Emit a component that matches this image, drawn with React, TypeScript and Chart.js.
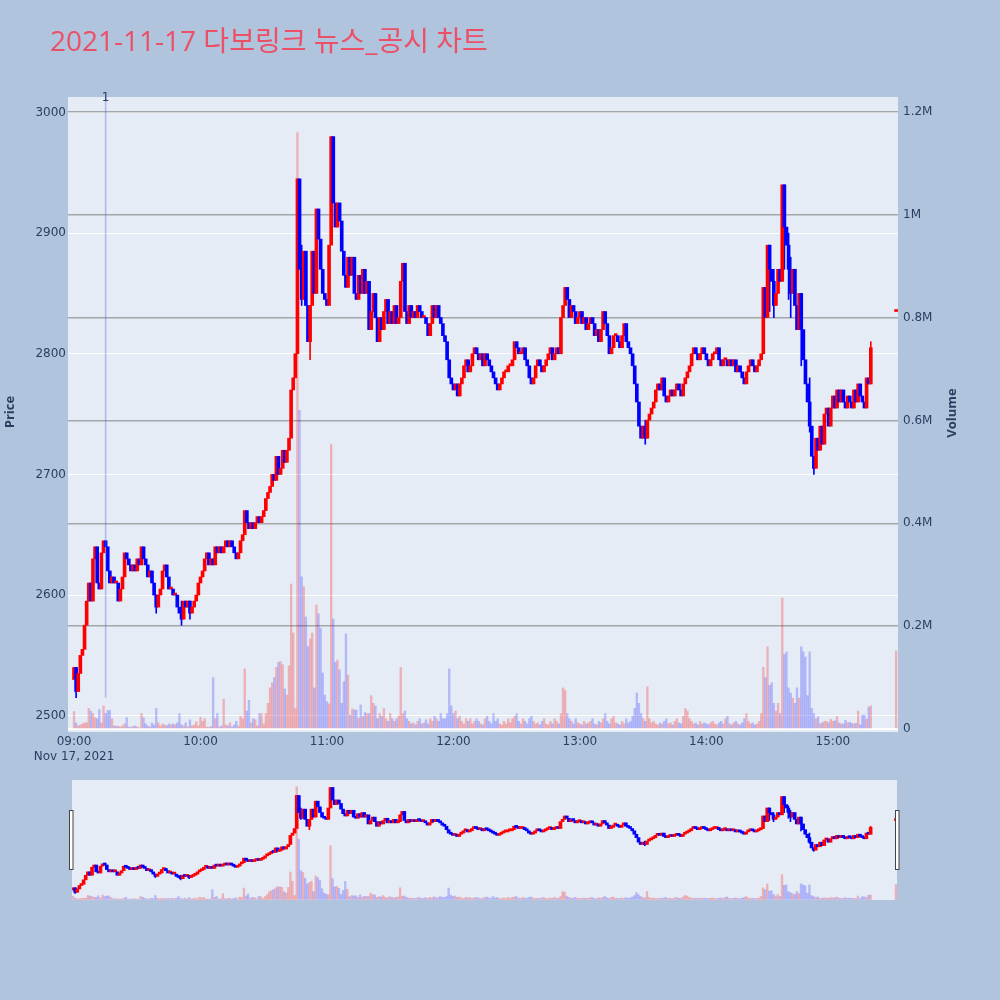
import React, { useEffect, useRef } from "react";
import { Chart, registerables } from "chart.js";

Chart.register(...registerables);

const TITLE = "2021-11-17 다보링크 뉴스_공시 차트";
const DATE_LABEL = "Nov 17, 2021";
const TIME_TICKS = [0, 60, 120, 180, 240, 300, 360];
const TIME_LABELS = ["09:00", "10:00", "11:00", "12:00", "13:00", "14:00", "15:00"];
const PRICE_TICKS = [2500, 2600, 2700, 2800, 2900, 3000];
const VOLUME_TICKS = [0, 0.2, 0.4, 0.6, 0.8, 1, 1.2];
const VOLUME_LABELS = ["0", "0.2M", "0.4M", "0.6M", "0.8M", "1M", "1.2M"];

// minute index 0 = 09:00
const FIRST_OPEN = 2530;
const CLOSES = [
  2540, 2520, 2535, 2550, 2555, 2575, 2595, 2610, 2595, 2630,
  2640, 2610, 2605, 2635, 2645, 2640, 2620, 2610, 2615, 2610,
  2610, 2595, 2605, 2615, 2635, 2630, 2625, 2620, 2625, 2620,
  2630, 2625, 2640, 2630, 2625, 2615, 2620, 2610, 2600, 2590,
  2600, 2605, 2620, 2625, 2615, 2605, 2605, 2600, 2600, 2590,
  2585, 2580, 2595, 2590, 2595, 2585, 2590, 2595, 2600, 2610,
  2615, 2620, 2630, 2635, 2625, 2630, 2625, 2640, 2635, 2640,
  2635, 2640, 2645, 2640, 2645, 2640, 2635, 2630, 2635, 2645,
  2650, 2670, 2660, 2655, 2660, 2655, 2660, 2665, 2660, 2665,
  2670, 2680, 2685, 2690, 2700, 2695, 2715, 2700, 2705, 2720,
  2710, 2720, 2730, 2770, 2780, 2800, 2945, 2870, 2845, 2885,
  2840, 2810, 2840, 2885, 2850, 2920, 2895, 2870, 2850, 2845,
  2840, 2890, 2980, 2925, 2905, 2925, 2910, 2885, 2865, 2855,
  2880, 2865, 2880, 2850, 2845, 2865, 2850, 2870, 2850, 2860,
  2820, 2835, 2850, 2830, 2810, 2830, 2820, 2835, 2845, 2825,
  2835, 2825, 2840, 2825, 2830, 2860, 2875, 2835, 2825, 2840,
  2830, 2835, 2830, 2840, 2835, 2830, 2830, 2825, 2815, 2825,
  2840, 2830, 2840, 2830, 2825, 2815, 2810, 2795, 2780, 2775,
  2770, 2775, 2765, 2775, 2780, 2790, 2795, 2785, 2790, 2800,
  2805, 2800, 2795, 2800, 2790, 2800, 2795, 2790, 2785, 2780,
  2775, 2770, 2775, 2780, 2785, 2785, 2790, 2790, 2795, 2810,
  2805, 2800, 2800, 2805, 2795, 2790, 2780, 2775, 2780, 2790,
  2795, 2790, 2785, 2790, 2795, 2800, 2805, 2795, 2800, 2805,
  2800, 2830, 2840, 2855, 2845, 2830, 2840, 2835, 2825, 2830,
  2835, 2825, 2830, 2820, 2825, 2830, 2825, 2815, 2820, 2810,
  2820, 2835, 2825, 2815, 2800, 2805, 2815, 2815, 2810, 2805,
  2815, 2825, 2810, 2805, 2800, 2790, 2775, 2760, 2740, 2730,
  2740, 2730, 2745, 2750, 2755, 2760, 2770, 2775, 2770, 2780,
  2765, 2760, 2765, 2770, 2765, 2770, 2775, 2770, 2765, 2775,
  2780, 2785, 2790, 2800, 2805, 2800, 2795, 2800, 2805, 2800,
  2795, 2790, 2795, 2800, 2800, 2805, 2795, 2790, 2795, 2795,
  2790, 2795, 2790, 2795, 2785, 2790, 2785, 2780, 2775, 2785,
  2790, 2795, 2790, 2785, 2790, 2795, 2800,
  2855, 2830, 2890, 2870, 2860, 2840, 2850, 2870, 2860, 2940,
  2905, 2890, 2870, 2850, 2870, 2840, 2820, 2850, 2820, 2795,
  2775, 2760, 2740, 2715, 2705, 2730, 2720, 2740, 2725, 2750,
  2755, 2740, 2755, 2765, 2755, 2770, 2760, 2770, 2760, 2755,
  2765, 2760, 2755, 2770, 2760, 2775, 2765, 2760, 2755, 2780, 2775, 2805,
];

// volume in millions of shares, same minutes as CLOSES
const VOLUMES = [
  0.034, 0.012, 0.006, 0.008, 0.010, 0.012, 0.012, 0.040, 0.035, 0.030,
  0.022, 0.020, 0.038, 0.012, 0.045, 0.030, 0.036, 0.036, 0.020, 0.006,
  0.006, 0.005, 0.004, 0.006, 0.010, 0.022, 0.004, 0.003, 0.005, 0.006,
  0.004, 0.002, 0.030, 0.022, 0.010, 0.006, 0.004, 0.012, 0.008, 0.040,
  0.012, 0.006, 0.010, 0.008, 0.006, 0.010, 0.008, 0.010, 0.008, 0.012,
  0.030, 0.008, 0.006, 0.012, 0.004, 0.018, 0.006, 0.008, 0.014, 0.006,
  0.023, 0.015, 0.020, 0.004, 0.003, 0.005, 0.100, 0.020, 0.030, 0.004,
  0.006, 0.058, 0.008, 0.006, 0.012, 0.004, 0.008, 0.015, 0.006, 0.025,
  0.020, 0.117, 0.035, 0.056, 0.012, 0.020, 0.018, 0.006, 0.030, 0.030,
  0.010, 0.030, 0.050, 0.080, 0.090, 0.100, 0.120, 0.130, 0.131, 0.125,
  0.078, 0.066, 0.123, 0.282, 0.187, 0.040, 1.160, 0.620, 0.296, 0.277,
  0.218, 0.160, 0.175, 0.187, 0.080, 0.241, 0.224, 0.196, 0.109, 0.066,
  0.053, 0.049, 0.553, 0.214, 0.130, 0.134, 0.115, 0.050, 0.092, 0.185,
  0.105, 0.027, 0.039, 0.037, 0.037, 0.021, 0.047, 0.024, 0.032, 0.030,
  0.030, 0.065, 0.050, 0.045, 0.020, 0.030, 0.025, 0.040, 0.020, 0.015,
  0.030, 0.020, 0.015, 0.020, 0.025, 0.120, 0.030, 0.035, 0.020, 0.015,
  0.010, 0.012, 0.008, 0.015, 0.020, 0.010, 0.012, 0.018, 0.010, 0.020,
  0.015, 0.025, 0.020, 0.015, 0.030, 0.020, 0.020, 0.030, 0.117, 0.045,
  0.030, 0.035, 0.020, 0.025, 0.015, 0.010, 0.020, 0.015, 0.020, 0.010,
  0.015, 0.020, 0.015, 0.010, 0.008, 0.020, 0.025, 0.015, 0.010, 0.030,
  0.015, 0.020, 0.010, 0.008, 0.015, 0.010, 0.020, 0.012, 0.020, 0.025,
  0.030, 0.015, 0.010, 0.020, 0.015, 0.010, 0.020, 0.025, 0.015, 0.010,
  0.012, 0.008, 0.015, 0.020, 0.010, 0.008, 0.015, 0.010, 0.020, 0.015,
  0.010, 0.030, 0.080, 0.075, 0.030, 0.020, 0.015, 0.010, 0.020, 0.012,
  0.010, 0.008, 0.015, 0.010, 0.012, 0.015, 0.020, 0.010, 0.008, 0.015,
  0.012, 0.020, 0.030, 0.015, 0.010, 0.020, 0.025, 0.012, 0.010, 0.008,
  0.015, 0.010, 0.020, 0.012, 0.015, 0.025, 0.040, 0.070, 0.050, 0.030,
  0.020, 0.015, 0.082, 0.020, 0.012, 0.015, 0.010, 0.008, 0.012, 0.010,
  0.015, 0.020, 0.010, 0.012, 0.008, 0.015, 0.020, 0.012, 0.010, 0.025,
  0.040, 0.035, 0.020, 0.015, 0.010, 0.012, 0.008, 0.015, 0.010, 0.012,
  0.010, 0.008, 0.012, 0.015, 0.010, 0.008, 0.012, 0.015, 0.010, 0.020,
  0.025, 0.010, 0.008, 0.012, 0.015, 0.010, 0.008, 0.012, 0.020, 0.030,
  0.015, 0.010, 0.012, 0.008, 0.010, 0.015, 0.030, 0.120, 0.100, 0.160,
  0.085, 0.090, 0.050, 0.035, 0.050, 0.030, 0.255, 0.145, 0.150, 0.080,
  0.070, 0.060, 0.050, 0.080, 0.060, 0.160, 0.150, 0.140, 0.065, 0.150,
  0.040, 0.030, 0.020, 0.024, 0.010, 0.012, 0.015, 0.015, 0.012, 0.019,
  0.015, 0.016, 0.024, 0.012, 0.010, 0.010, 0.017, 0.012, 0.013, 0.011,
  0.010, 0.011, 0.035, 0.008, 0.027, 0.027, 0.019, 0.043, 0.045,
];

// closing auction trade at 15:30
const AUCTION_MINUTE = 390;
const AUCTION_PRICE = 2835;
const AUCTION_VOLUME = 0.152;

// visible shadows beyond the bodies: [minute, low, high]
const WICKS: [number, number, number][] = [
  [1, 2515, 2540],
  [39, 2585, 2600],
  [51, 2575, 2595],
  [55, 2580, 2595],
  [108, 2840, 2890],
  [112, 2795, 2840],
  [271, 2725, 2745],
  [330, 2835, 2890],
  [332, 2830, 2870],
  [337, 2870, 2940],
  [339, 2845, 2900],
  [340, 2830, 2880],
  [345, 2790, 2850],
  [349, 2735, 2780],
  [351, 2700, 2715],
  [378, 2775, 2810],
];

// news marker
const NEWS_MINUTE = 15;
const NEWS_LABEL = "1";
const NEWS_LINE_LOW = 2515;

const PRICE_MIN = 2486.5;
const PRICE_MAX = 3012.8;
const VOL_MIN = -0.0058;
const VOL_MAX = 1.2292;

const AXIS_COLOR = "#2a3f5f";
const TICK_FONT = '"DejaVu Sans", Verdana, sans-serif';
const UP = "#ff0000";
const DOWN = "#0000ff";
const VOL_UP = "rgba(255,0,0,0.25)";
const VOL_DOWN = "rgba(0,0,255,0.22)";
const PLOT_BG = "#E5ECF6";
const PAGE_BG = "#B0C4DE";

type Candle = { m: number; o: number; c: number; v: number };

const candles: Candle[] = CLOSES.map((c, i) => ({
  m: i,
  o: i === 0 ? FIRST_OPEN : CLOSES[i - 1],
  c,
  v: VOLUMES[i] ?? 0,
}));
candles.push({ m: AUCTION_MINUTE, o: AUCTION_PRICE, c: AUCTION_PRICE, v: AUCTION_VOLUME });

const isUp = (k: Candle) => k.c >= k.o;
const candleAt = (m: number) => candles.find((k) => k.m === m)!;

function makeDatasets(bodyW: number, wickW: number, volW: number): any[] {
  return [
    {
      type: "bar",
      label: "volume",
      yAxisID: "yv",
      data: candles.map((k) => ({ x: k.m, y: k.v })),
      backgroundColor: candles.map((k) => (isUp(k) ? VOL_UP : VOL_DOWN)),
      barThickness: volW,
      grouped: false,
      order: 3,
    },
    {
      type: "bar",
      label: "wicks",
      yAxisID: "y",
      data: WICKS.map(([m, lo, hi]) => ({ x: m, y: [lo, hi] })),
      backgroundColor: WICKS.map(([m]) => (isUp(candleAt(m)) ? UP : DOWN)),
      barThickness: wickW,
      grouped: false,
      order: 2,
    },
    {
      type: "bar",
      label: "price",
      yAxisID: "y",
      data: candles.map((k) => ({ x: k.m, y: [k.o, k.c] })),
      backgroundColor: candles.map((k) => (isUp(k) ? UP : DOWN)),
      barThickness: bodyW,
      minBarLength: 2,
      grouped: false,
      order: 1,
    },
  ];
}

const bgPlugin = {
  id: "plotbg",
  beforeDraw(chart: any) {
    const { ctx, chartArea } = chart;
    ctx.save();
    ctx.fillStyle = PLOT_BG;
    ctx.fillRect(chartArea.left, chartArea.top, chartArea.right - chartArea.left, chartArea.bottom - chartArea.top);
    ctx.restore();
  },
};

const overlayPlugin = {
  id: "overlay",
  afterDatasetsDraw(chart: any) {
    const { ctx, chartArea, scales } = chart;
    const x = scales.x.getPixelForValue(NEWS_MINUTE);
    const yLow = scales.y.getPixelForValue(NEWS_LINE_LOW);
    ctx.save();
    ctx.strokeStyle = "rgba(80,110,220,0.4)";
    ctx.lineWidth = 1.5;
    ctx.beginPath();
    ctx.moveTo(x, chartArea.top);
    ctx.lineTo(x, yLow);
    ctx.stroke();
    ctx.restore();
  },
  afterDraw(chart: any) {
    const { ctx, scales } = chart;
    ctx.save();
    const x = scales.x.getPixelForValue(NEWS_MINUTE);
    ctx.fillStyle = AXIS_COLOR;
    ctx.font = "12px " + TICK_FONT;
    ctx.textAlign = "center";
    ctx.textBaseline = "alphabetic";
    ctx.fillText(NEWS_LABEL, x, 101);
    ctx.fillStyle = "rgb(236,80,102)";
    ctx.font = '28px "Open Sans", "Noto Sans CJK KR", sans-serif';
    ctx.textAlign = "left";
    ctx.fillText(TITLE, 50, 51);
    ctx.restore();

    const drawRotated = (text: string, cx: number, cy: number) => {
      ctx.save();
      ctx.fillStyle = AXIS_COLOR;
      ctx.font = 'bold 13px "Open Sans", Arial, sans-serif';
      ctx.textAlign = "center";
      ctx.textBaseline = "middle";
      ctx.translate(cx, cy);
      ctx.rotate(-Math.PI / 2);
      ctx.fillText(text, 0, 0);
      ctx.restore();
    };
    drawRotated("Price", 10, 412);
    drawRotated("Volume", 952, 413);
  },
};

const handlesPlugin = {
  id: "handles",
  afterDraw(chart: any) {
    const { ctx } = chart;
    ctx.save();
    ctx.fillStyle = "#ffffff";
    ctx.strokeStyle = "#444444";
    ctx.lineWidth = 1;
    ctx.fillRect(69.5, 40.5, 3.5, 59);
    ctx.strokeRect(69.5, 40.5, 3.5, 59);
    ctx.fillRect(895.5, 40.5, 3.5, 59);
    ctx.strokeRect(895.5, 40.5, 3.5, 59);
    ctx.restore();
  },
};

export default function App() {
  const mainRef = useRef<HTMLCanvasElement>(null);
  const sliderRef = useRef<HTMLCanvasElement>(null);

  useEffect(() => {
    Chart.defaults.font.family = TICK_FONT;
    Chart.defaults.color = AXIS_COLOR;

    const main = new Chart(mainRef.current!, {
      type: "bar",
      data: { datasets: makeDatasets(3, 1, 1.7) },
      options: {
        responsive: false,
        maintainAspectRatio: false,
        animation: false,
        devicePixelRatio: 1,
        layout: { padding: { top: 97, left: 0, right: 0, bottom: 0 } },
        plugins: { legend: { display: false }, tooltip: { enabled: false } },
        scales: {
          x: {
            type: "linear",
            offset: false,
            min: -2.85,
            max: 390.9,
            grid: { display: false, drawTicks: false, offset: false },
            border: { display: false },
            afterBuildTicks: (s: any) => {
              s.ticks = TIME_TICKS.map((v) => ({ value: v }));
            },
            afterFit: (s: any) => {
              s.height = 38;
            },
            ticks: {
              autoSkip: false,
              maxRotation: 0,
              minRotation: 0,
              padding: 3,
              color: AXIS_COLOR,
              font: { size: 12, family: TICK_FONT },
              callback: (v: any) => {
                const i = TIME_TICKS.indexOf(Number(v));
                const l = TIME_LABELS[i];
                return i === 0 ? [l, DATE_LABEL] : l;
              },
            },
          },
          y: {
            type: "linear",
            position: "left",
            min: PRICE_MIN,
            max: PRICE_MAX,
            grid: { color: "#ffffff", lineWidth: 1, drawTicks: false },
            border: { display: false },
            afterBuildTicks: (s: any) => {
              s.ticks = PRICE_TICKS.map((v) => ({ value: v }));
            },
            afterFit: (s: any) => {
              s.width = 68;
            },
            ticks: { padding: 2, color: AXIS_COLOR, font: { size: 12, family: TICK_FONT }, callback: (v: any) => String(v) },
          },
          yv: {
            type: "linear",
            position: "right",
            min: VOL_MIN,
            max: VOL_MAX,
            grid: {
              color: (c: any) => (c.tick && c.tick.value === 0 ? "#ffffff" : "rgba(120,120,120,0.6)"),
              lineWidth: (c: any) => (c.tick && c.tick.value === 0 ? 2 : 1.6),
              drawTicks: false,
            },
            border: { display: false },
            afterBuildTicks: (s: any) => {
              s.ticks = VOLUME_TICKS.map((v) => ({ value: v }));
            },
            afterFit: (s: any) => {
              s.width = 102;
            },
            ticks: {
              padding: 5,
              color: AXIS_COLOR,
              font: { size: 12, family: TICK_FONT },
              callback: (v: any) => VOLUME_LABELS[VOLUME_TICKS.indexOf(Number(v))] ?? "",
            },
          },
        },
      } as any,
      plugins: [bgPlugin, overlayPlugin],
    });

    const slider = new Chart(sliderRef.current!, {
      type: "bar",
      data: { datasets: makeDatasets(3, 1, 1.7) },
      options: {
        responsive: false,
        maintainAspectRatio: false,
        animation: false,
        devicePixelRatio: 1,
        layout: { padding: { top: 10, left: 72, right: 103, bottom: 10 } },
        plugins: { legend: { display: false }, tooltip: { enabled: false } },
        scales: {
          x: { type: "linear", offset: false, min: -0.5, max: 390.5, display: false, grid: { offset: false } },
          y: { type: "linear", min: PRICE_MIN, max: PRICE_MAX, display: false },
          yv: { type: "linear", position: "right", min: VOL_MIN, max: VOL_MAX, display: false },
        },
      } as any,
      plugins: [bgPlugin, handlesPlugin],
    });

    return () => {
      main.destroy();
      slider.destroy();
    };
  }, []);

  return (
    <div
      style={{
        position: "absolute",
        left: 0,
        top: 0,
        width: 1000,
        height: 1000,
        background: PAGE_BG,
        overflow: "hidden",
      }}
    >
      <canvas
        ref={mainRef}
        width={1000}
        height={770}
        style={{ position: "absolute", left: 0, top: 0, width: 1000, height: 770 }}
      />
      <canvas
        ref={sliderRef}
        width={1000}
        height={140}
        style={{ position: "absolute", left: 0, top: 770, width: 1000, height: 140 }}
      />
    </div>
  );
}
